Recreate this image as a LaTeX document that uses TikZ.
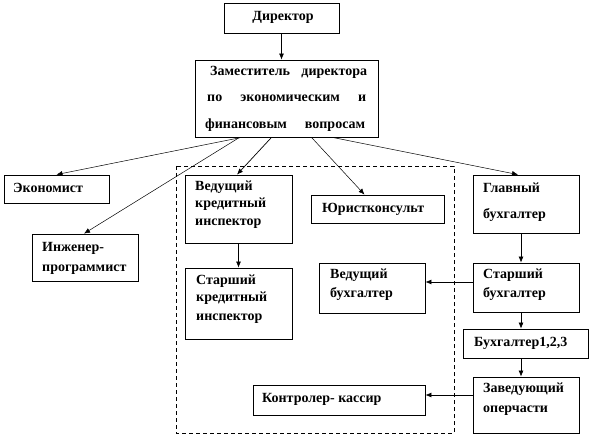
\documentclass[tikz,border=0pt]{standalone}
\usepackage{fontspec}
\setmainfont{Liberation Serif}
\newfontfamily\rusf{Liberation Serif}
\usetikzlibrary{arrows.meta,calc}
\begin{document}
\begin{tikzpicture}[x=1pt,y=-1pt,
  box/.style={draw=black,line width=0.8pt,inner sep=0pt,fill=white},
  lbl/.style={inner sep=0pt,anchor=mid west,font=\rusf\fontsize{14}{16}\selectfont\bfseries},
  arr/.style={line width=0.7pt,-{Latex[length=6pt,width=5pt]}},
  thinarr/.style={line width=0.5pt,-{Latex[length=6pt,width=5pt]}}]
\useasboundingbox (0,0) rectangle (591,438);
% dashed group frame
\draw[line width=0.7pt,dash pattern=on 4pt off 3pt] (176,166) rectangle (454,433);
% boxes
\node[box,minimum width=115pt,minimum height=30pt] (dir) at (281.5,18) {};
\node[box,minimum width=183pt,minimum height=77pt] (dep) at (286.5,98.5) {};
\node[box,minimum width=105pt,minimum height=28pt] (eco) at (56.5,189) {};
\node[box,minimum width=106pt,minimum height=47pt] (eng) at (85,257.5) {};
\node[box,minimum width=107pt,minimum height=68pt] (lci) at (238.5,209) {};
\node[box,minimum width=107pt,minimum height=71pt] (sci) at (238.5,303.5) {};
\node[box,minimum width=133pt,minimum height=28pt] (jur) at (377.5,209) {};
\node[box,minimum width=106pt,minimum height=58pt] (chf) at (526,204) {};
\node[box,minimum width=106pt,minimum height=49pt] (sac) at (526,287.5) {};
\node[box,minimum width=106pt,minimum height=50pt] (lac) at (372,288) {};
\node[box,minimum width=125pt,minimum height=29pt] (b123) at (525.5,343.5) {};
\node[box,minimum width=106pt,minimum height=56pt] (head) at (526,405) {};
\node[box,minimum width=172pt,minimum height=30pt] (ctl) at (339,400) {};
% texts
\node[lbl,anchor=mid] (tdir) at (283,18) {Директор};
\node[lbl] (tdep1) at (210,73) {\makebox[157pt][s]{Заместитель директора}};
\node[lbl] (tdep2) at (207,99) {\makebox[159pt][s]{по экономическим и}};
\node[lbl] (tdep3) at (205,126) {\makebox[160pt][s]{финансовым вопросам}};
\node[lbl] (teco) at (13,190) {Экономист};
\node[lbl] (teng1) at (42,249) {Инженер-};
\node[lbl] (teng2) at (42,269) {программист};
\node[lbl] (tlci1) at (195,188) {Ведущий};
\node[lbl] (tlci2) at (195,205) {кредитный};
\node[lbl] (tlci3) at (195,223) {инспектор};
\node[lbl] (tsci1) at (196,282) {Старший};
\node[lbl] (tsci2) at (196,299) {кредитный};
\node[lbl] (tsci3) at (196,318) {инспектор};
\node[lbl] (tjur) at (322,210) {Юристконсульт};
\node[lbl] (tchf1) at (483,190) {Главный};
\node[lbl] (tchf2) at (483,216) {бухгалтер};
\node[lbl] (tlac1) at (330,276) {Ведущий};
\node[lbl] (tlac2) at (330,295) {бухгалтер};
\node[lbl] (tsac1) at (483,276) {Старший};
\node[lbl] (tsac2) at (483,295) {бухгалтер};
\node[lbl] (tb123) at (474,344) {Бухгалтер1,2,3};
\node[lbl] (thead1) at (483,390) {Заведующий};
\node[lbl] (thead2) at (483,410) {оперчасти};
\node[lbl] (tctl) at (262,400) {Контролер- кассир};
% connectors
\draw[arr] (dir.south) -- (dir.south |- dep.north);
\draw[thinarr] ([xshift=-45pt]dep.south) -- (eco.north);
\draw[thinarr] ([xshift=-47pt]dep.south) -- ([xshift=-1pt]eng.north);
\draw[arr] ([xshift=-15pt]dep.south) -- ([xshift=-1.5pt]lci.north);
\draw[thinarr] ([xshift=25pt]dep.south) -- ([xshift=-13pt]jur.north);
\draw[thinarr] ([xshift=46pt]dep.south) -- ([xshift=-8pt]chf.north);
\draw[arr] (lci.south) -- (sci.north);
\draw[arr] ([xshift=-5pt]chf.south) -- ([xshift=-5pt]sac.north);
\draw[arr] ([yshift=5.5pt]sac.west) -- ([yshift=6pt]lac.east);
\draw[arr] ([xshift=-5pt]sac.south) -- ([xshift=-4.5pt]b123.north);
\draw[arr] ([xshift=-4.5pt]b123.south) -- ([xshift=-5pt]head.north);
\draw[arr] ([yshift=10pt]head.west) -- ([yshift=5pt]ctl.east);
\end{tikzpicture}
\end{document}
